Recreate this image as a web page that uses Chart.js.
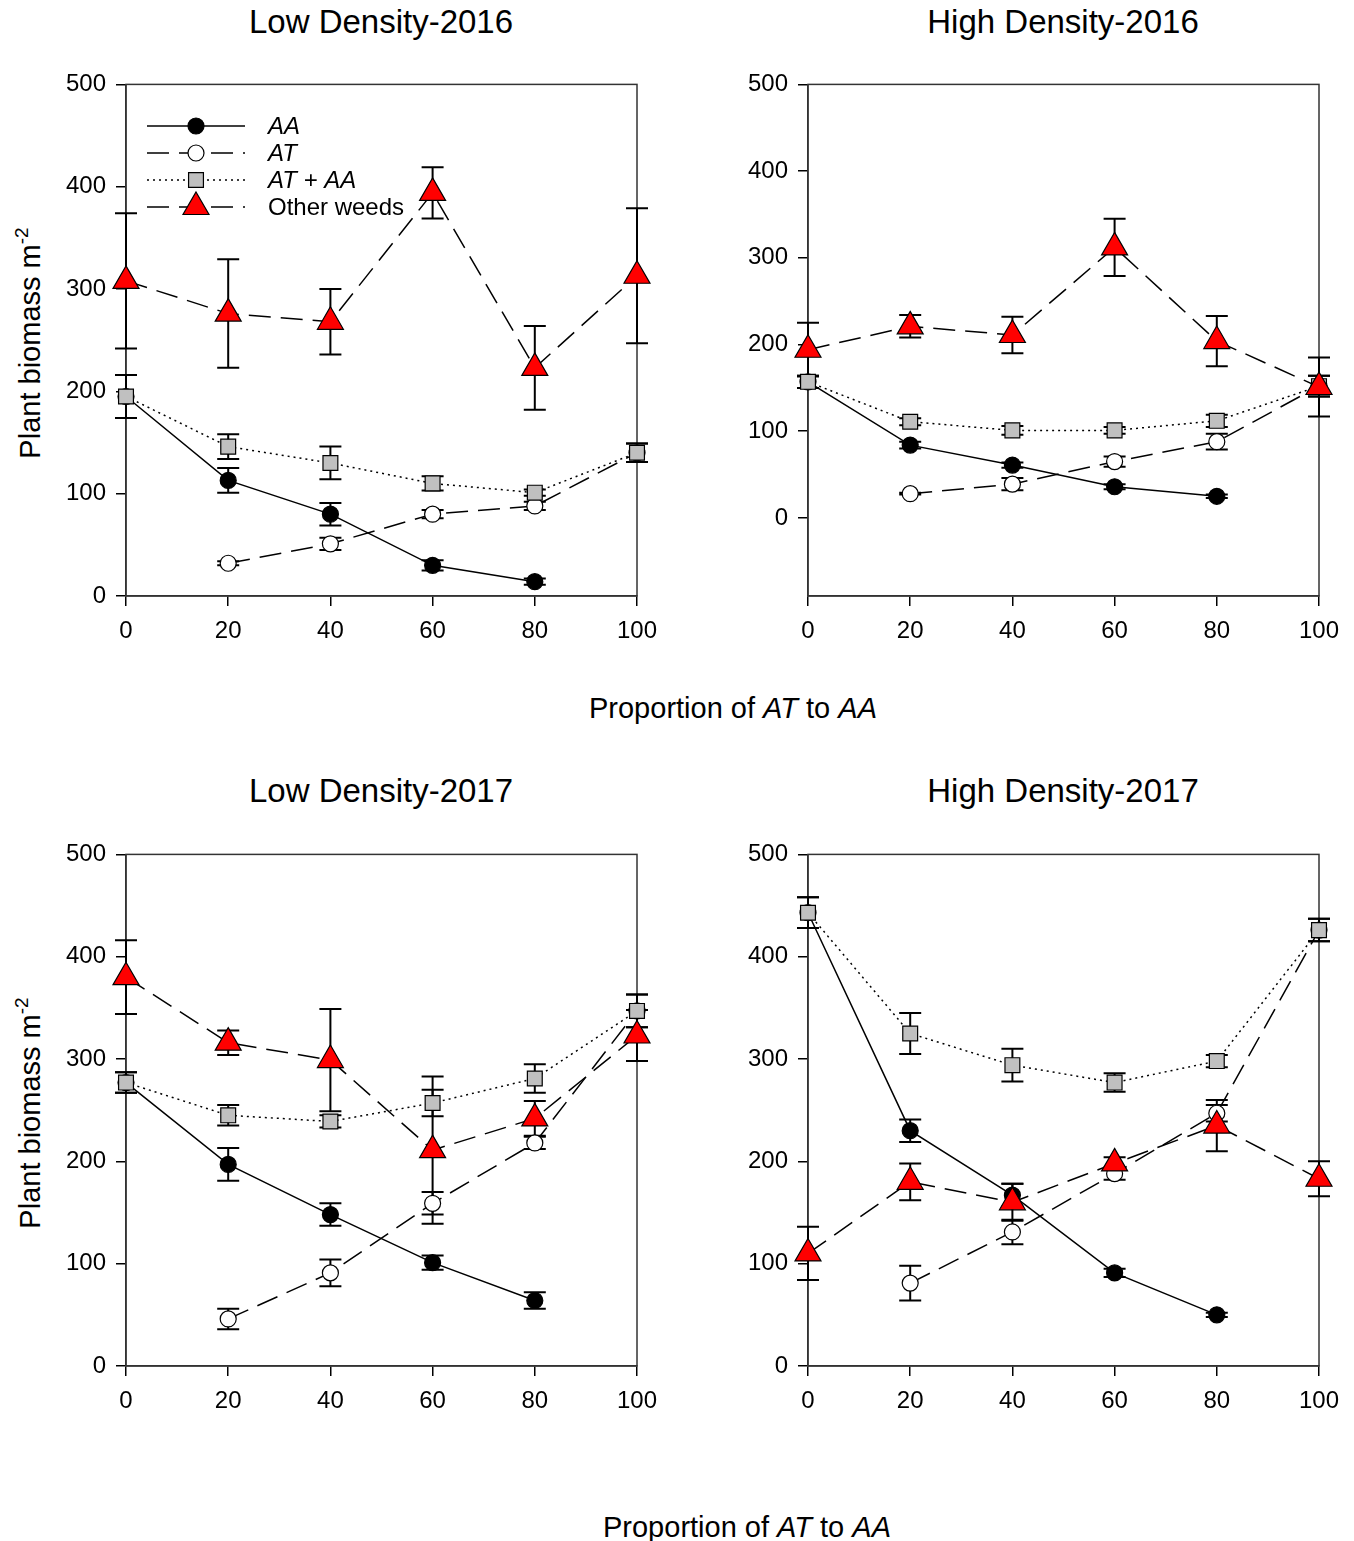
<!DOCTYPE html>
<html>
<head>
<meta charset="utf-8">
<script src="https://cdn.jsdelivr.net/npm/chart.js@4.4.1/dist/chart.umd.min.js"></script>
<style>
  body { margin: 0; background: #fff; width: 1354px; height: 1541px; position: relative; overflow: hidden;
         font-family: "Liberation Sans", Arial, sans-serif; color: #000; }
  canvas { position: absolute; }
  .lbl { position: absolute; white-space: nowrap; transform: translate(-50%, -50%); }
  .title { font-size: 33px; }
  .xt { font-size: 29px; }
  .yt { font-size: 29px; transform: translate(-50%, -50%) rotate(-90deg); }
  .yt sup { font-size: 19px; vertical-align: 12px; line-height: 0; }
</style>
</head>
<body>

<div class="lbl title" style="left:381px; top:22px">Low Density-2016</div>
<div class="lbl title" style="left:1063px; top:22px">High Density-2016</div>
<div class="lbl title" style="left:381px; top:791px">Low Density-2017</div>
<div class="lbl title" style="left:1063px; top:791px">High Density-2017</div>

<div class="lbl yt" style="left:30px; top:343px">Plant biomass m<sup>-2</sup></div>
<div class="lbl yt" style="left:30px; top:1113px">Plant biomass m<sup>-2</sup></div>

<div class="lbl xt" style="left:733px; top:708px">Proportion of <i>AT</i> to <i>AA</i></div>
<div class="lbl xt" style="left:747px; top:1527px">Proportion of <i>AT</i> to <i>AA</i></div>

<canvas id="ld16" width="680" height="600" style="left:0px; top:60px"></canvas>
<canvas id="hd16" width="674" height="600" style="left:680px; top:60px"></canvas>
<canvas id="ld17" width="680" height="600" style="left:0px; top:830px"></canvas>
<canvas id="hd17" width="674" height="600" style="left:680px; top:830px"></canvas>

<script>
// x values: proportion of AT to AA
const proportions = [0, 20, 40, 60, 80, 100];
const yTickValues = [0, 100, 200, 300, 400, 500];
const seriesNames = ['AA', 'AT', 'AT + AA', 'Other weeds'];

// Low Density-2016
const ld16AA = [195, 113, 80, 30, 14, null];
const ld16AAErr = [21, 12, 11, 5, 3, null];
const ld16AT = [null, 32, 51, 80, 88, 140];
const ld16ATErr = [null, 2, 6, 4, 4, 9];
const ld16Sum = [195, 146, 130, 110, 101, 140];
const ld16SumErr = [21, 12, 16, 7, 3, 9];
const ld16Weeds = [308, 276, 268, 394, 223, 313];
const ld16WeedsErr = [66, 53, 32, 25, 41, 66];

// High Density-2016
const hd16AA = [157, 84, 61, 36, 25, null];
const hd16AAErr = [7, 4, 3, 3, 2, null];
const hd16AT = [null, 28, 39, 65, 88, 152];
const hd16ATErr = [null, 1, 7, 6, 9, 12];
const hd16Sum = [157, 111, 101, 101, 112, 152];
const hd16SumErr = [7, 4, 5, 4, 7, 12];
const hd16Weeds = [194, 221, 211, 312, 204, 151];
const hd16WeedsErr = [31, 13, 21, 33, 29, 34];

// Low Density-2017
const ld17AA = [277, 197, 148, 101, 64, null];
const ld17AAErr = [10, 16, 11, 7, 8, null];
const ld17AT = [null, 46, 91, 159, 218, 347];
const ld17ATErr = [null, 10, 13, 11, 6, 16];
const ld17Sum = [277, 245, 239, 257, 281, 347];
const ld17SumErr = [10, 10, 6, 13, 14, 16];
const ld17Weeds = [380, 316, 299, 211, 242, 323];
const ld17WeedsErr = [36, 12, 50, 72, 17, 25];

// High Density-2017
const hd17AA = [443, 230, 167, 91, 50, null];
const hd17AAErr = [15, 11, 11, 4, 2, null];
const hd17AT = [null, 81, 131, 188, 247, 426];
const hd17ATErr = [null, 17, 12, 6, 8, 11];
const hd17Sum = [443, 325, 294, 277, 298, 426];
const hd17SumErr = [15, 20, 16, 9, 6, 11];
const hd17Weeds = [110, 180, 160, 198, 235, 183];
const hd17WeedsErr = [26, 18, 18, 6, 25, 17];

const FONT = '"Liberation Sans", Arial, sans-serif';

// style for each series, in the order of seriesNames
const seriesStyles = [
  { dash: [], pointStyle: 'circle', radius: 8, fill: '#000000', order: 3 },
  { dash: [22, 10], pointStyle: 'circle', radius: 8, fill: '#ffffff', order: 2 },
  { dash: [2, 4], pointStyle: 'rect', radius: 10.5, fill: '#c0c0c0', order: 1 },
  { dash: [22, 10], pointStyle: 'triangle', radius: 15, fill: '#ff0000', order: 0 }
];

function drawMarker(ctx, style, x, y) {
  ctx.save();
  ctx.setLineDash([]);
  ctx.fillStyle = style.fill;
  ctx.strokeStyle = '#000';
  ctx.lineWidth = 1.2;
  ctx.beginPath();
  const r = style.radius;
  if (style.pointStyle === 'circle') {
    ctx.arc(x, y, r, 0, Math.PI * 2);
  } else if (style.pointStyle === 'rect') {
    const s = r * Math.SQRT1_2;
    ctx.rect(x - s, y - s, 2 * s, 2 * s);
  } else {
    ctx.moveTo(x, y - r);
    ctx.lineTo(x + Math.sin(2 * Math.PI / 3) * r, y + r / 2);
    ctx.lineTo(x - Math.sin(2 * Math.PI / 3) * r, y + r / 2);
    ctx.closePath();
  }
  ctx.fill();
  ctx.stroke();
  ctx.restore();
}

// box around the plot area
const framePlugin = {
  id: 'frame',
  beforeDatasetsDraw(chart) {
    const a = chart.chartArea;
    const ctx = chart.ctx;
    ctx.save();
    ctx.strokeStyle = '#333';
    ctx.lineWidth = 1.5;
    ctx.strokeRect(a.left, a.top, a.right - a.left, a.bottom - a.top);
    ctx.restore();
  }
};

// vertical error bars with caps
const errorBarPlugin = {
  id: 'errorBars',
  beforeDatasetsDraw(chart) {
    const ctx = chart.ctx;
    const xs = chart.scales.x;
    const ys = chart.scales.y;
    ctx.save();
    ctx.strokeStyle = '#000';
    ctx.lineWidth = 2;
    chart.data.datasets.forEach((ds) => {
      ds.values.forEach((v, i) => {
        const e = ds.errors[i];
        if (v === null || e === null) return;
        const x = xs.getPixelForValue(proportions[i]);
        const yTop = ys.getPixelForValue(v + e);
        const yBot = ys.getPixelForValue(v - e);
        ctx.beginPath();
        ctx.moveTo(x, yTop);
        ctx.lineTo(x, yBot);
        ctx.moveTo(x - 11, yTop);
        ctx.lineTo(x + 11, yTop);
        ctx.moveTo(x - 11, yBot);
        ctx.lineTo(x + 11, yBot);
        ctx.stroke();
      });
    });
    ctx.restore();
  }
};

// legend with line sample + marker, drawn only in the first panel
const legendPlugin = {
  id: 'lineLegend',
  afterDraw(chart, args, opts) {
    if (!opts.show) return;
    const ctx = chart.ctx;
    const rows = [66, 93, 120, 147];
    seriesNames.forEach((name, i) => {
      const st = seriesStyles[i];
      const y = rows[i];
      ctx.save();
      ctx.strokeStyle = '#000';
      ctx.lineWidth = 1.5;
      ctx.setLineDash(st.dash);
      ctx.beginPath();
      ctx.moveTo(147, y);
      ctx.lineTo(245, y);
      ctx.stroke();
      ctx.restore();
      drawMarker(ctx, st, 196, y);
      ctx.save();
      ctx.fillStyle = '#000';
      ctx.font = (i < 3 ? 'italic ' : '') + '24px ' + FONT;
      ctx.textBaseline = 'middle';
      ctx.fillText(name, 268, y + 1);
      ctx.restore();
    });
  }
};

function makeDataset(i, values, errors) {
  const st = seriesStyles[i];
  return {
    label: seriesNames[i],
    data: values.map((v, k) => ({ x: proportions[k], y: v })),
    values: values,
    errors: errors,
    borderColor: '#000',
    borderWidth: 1.5,
    borderDash: st.dash,
    pointStyle: st.pointStyle,
    pointRadius: st.radius,
    pointBackgroundColor: st.fill,
    pointBorderColor: '#000',
    pointBorderWidth: 1.2,
    tension: 0,
    clip: false,
    order: st.order
  };
}

function makePanel(id, series, yMin, yAxisWidth, padRight, padTop, legend) {
  const axisGrid = { drawOnChartArea: false, drawTicks: true, tickLength: 10, color: '#000', lineWidth: 1.5 };
  const axisBorder = { display: true, color: '#333', width: 1.5 };
  const tickFont = { size: 24, family: FONT };
  return new Chart(document.getElementById(id), {
    type: 'line',
    data: {
      datasets: series.map((s, i) => makeDataset(i, s[0], s[1]))
    },
    options: {
      responsive: false,
      animation: false,
      layout: { padding: { left: 0, top: padTop, right: padRight, bottom: 0 } },
      plugins: {
        legend: { display: false },
        tooltip: { enabled: false },
        lineLegend: { show: legend }
      },
      scales: {
        x: {
          type: 'linear',
          min: 0,
          max: 100,
          afterBuildTicks: (s) => { s.ticks = proportions.map((v) => ({ value: v })); },
          afterFit: (s) => { s.height = 64; },
          grid: axisGrid,
          border: axisBorder,
          ticks: { color: '#000', font: tickFont, padding: 11, maxRotation: 0, autoSkip: false }
        },
        y: {
          min: yMin,
          max: 500,
          afterBuildTicks: (s) => { s.ticks = yTickValues.map((v) => ({ value: v })); },
          afterFit: (s) => { s.width = yAxisWidth; },
          grid: axisGrid,
          border: axisBorder,
          ticks: { color: '#000', font: tickFont, padding: 10 }
        }
      }
    },
    plugins: [framePlugin, errorBarPlugin, legendPlugin]
  });
}

makePanel('ld16', [[ld16AA, ld16AAErr], [ld16AT, ld16ATErr], [ld16Sum, ld16SumErr], [ld16Weeds, ld16WeedsErr]], 0, 126, 43, 24, true);
makePanel('hd16', [[hd16AA, hd16AAErr], [hd16AT, hd16ATErr], [hd16Sum, hd16SumErr], [hd16Weeds, hd16WeedsErr]], -90, 128, 35, 24, false);
makePanel('ld17', [[ld17AA, ld17AAErr], [ld17AT, ld17ATErr], [ld17Sum, ld17SumErr], [ld17Weeds, ld17WeedsErr]], 0, 126, 43, 23, false);
makePanel('hd17', [[hd17AA, hd17AAErr], [hd17AT, hd17ATErr], [hd17Sum, hd17SumErr], [hd17Weeds, hd17WeedsErr]], 0, 128, 35, 23, false);
</script>
</body>
</html>
